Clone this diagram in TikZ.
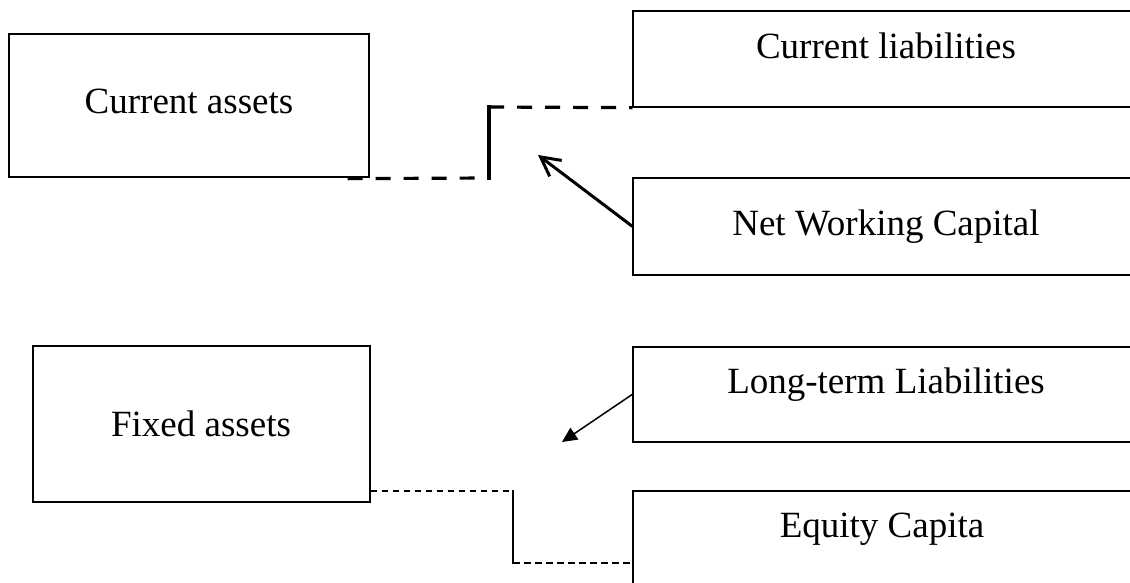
\documentclass[tikz,border=0pt]{standalone}
\usepackage{fontspec}
\setmainfont{Liberation Serif}
\usetikzlibrary{arrows.meta,calc}

\begin{document}
\begin{tikzpicture}[x=1pt,y=-1pt,
  box/.style={draw=black,line width=1.3pt,rectangle,inner sep=0pt,fill=white},
  boxtext/.style={anchor=base,inner sep=0pt,font=\fontsize{37}{44}\selectfont},
  heavydash/.style={line width=3.2pt,dash pattern=on 15pt off 13pt},
  heavysolid/.style={line width=3.2pt,line cap=rect},
  lightdash/.style={line width=1.3pt,dash pattern=on 6.5pt off 4.5pt},
  lightsolid/.style={line width=1.3pt,line cap=rect},
  heavyarrow/.style={line width=3pt,-{Straight Barb[length=19pt,width=20pt,line width=3pt]}},
  lightarrow/.style={line width=1.5pt,-{Triangle[length=15pt,width=14pt]}}]

\useasboundingbox (0,0) rectangle (1130,582);

% left-hand boxes
\node[box,minimum width=360pt,minimum height=143pt] (ca) at (189,105.5) {};
\node[box,minimum width=337pt,minimum height=156pt] (fa) at (201.5,424) {};

% right-hand boxes (run past the right margin)
\node[box,minimum width=506pt,minimum height=96pt] (cl)  at (886,59) {};
\node[box,minimum width=506pt,minimum height=97pt] (nwc) at (886,226.5) {};
\node[box,minimum width=506pt,minimum height=95pt] (ltl) at (886,394.5) {};
\node[box,minimum width=506pt,minimum height=99pt] (ec)  at (886,540.5) {};

% labels
\node[boxtext] (catext)  at (189,113) {Current assets};
\node[boxtext] (fatext)  at (201,436) {Fixed assets};
\node[boxtext] (cltext)  at (886,58)  {Current liabilities};
\node[boxtext] (nwctext) at (886,235) {Net Working Capital};
\node[boxtext] (ltltext) at (886,393) {Long-term Liabilities};
\node[boxtext] (ectext)  at (882,537) {Equity Capita};

% stepped link between current assets and current liabilities
\coordinate (k1) at (489,178);
\coordinate (k2) at (489,107);
\draw[heavydash] ($(ca.south east)+(-22,1)$) -- (k1);
\draw[heavysolid] (k1) -- (k2);
\draw[heavydash] (k2) -- (cl.south west);

% stepped link between fixed assets and equity capital
\coordinate (m1) at (513,491);
\coordinate (m2) at (513,563);
\draw[lightdash] (fa.east |- m1) -- (m1);
\draw[lightsolid] (m1) -- (m2);
\draw[lightdash] (m2) -- (ec.north west |- m2);

% arrows
\coordinate (t1) at (538,155);
\coordinate (t2) at (562,442);
\draw[heavyarrow] ($(nwc.north west)+(0,49)$) -- (t1);
\draw[lightarrow] ($(ltl.north west)+(0,48)$) -- (t2);

\end{tikzpicture}
\end{document}
